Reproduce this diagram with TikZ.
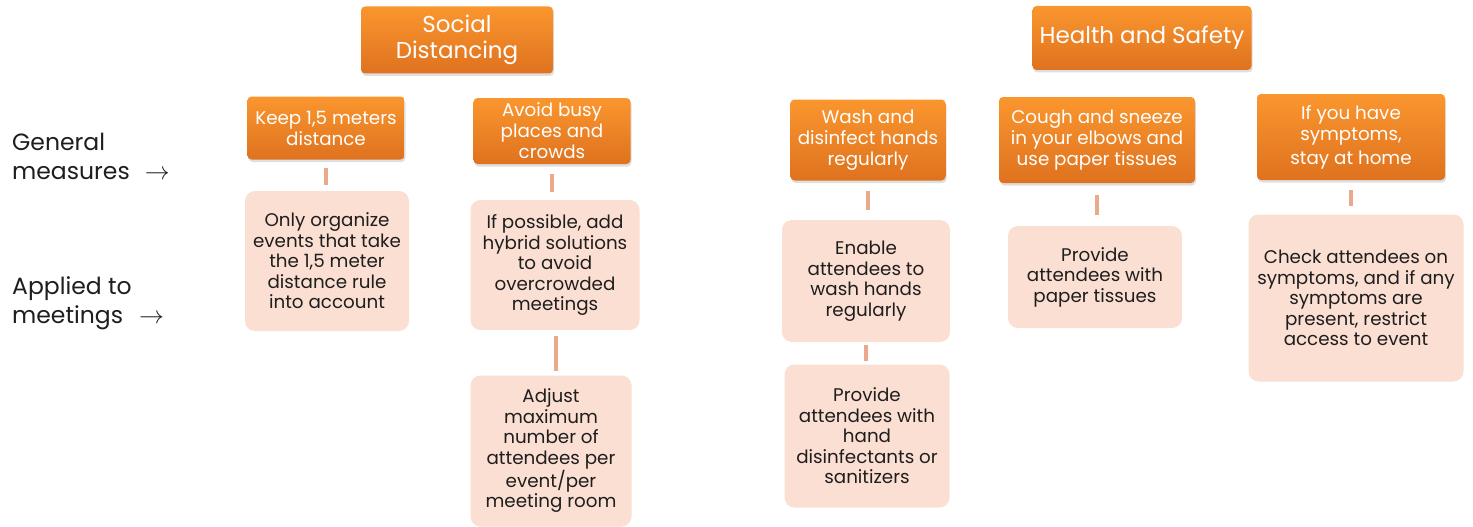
\documentclass[tikz,border=0pt]{standalone}
\usepackage{fontspec}
\setmainfont{Poppins}
\usetikzlibrary{shadows}
\definecolor{orTop}{HTML}{FA962E}
\definecolor{orBot}{HTML}{DF721F}
\definecolor{pale}{HTML}{FBDFD2}
\definecolor{conncol}{HTML}{EBA98C}
\definecolor{txt}{HTML}{1E1E1E}
\tikzset{
  orbox/.style={rounded corners=4pt, top color=orTop, bottom color=orBot, draw=none,
    text=white, align=center, inner sep=0pt,
    drop shadow={shadow xshift=1pt, shadow yshift=-2.5pt, opacity=0.25},
    font=\fontsize{18.3}{21}\selectfont},
  titlebox/.style={orbox, font=\fontsize{23}{26}\selectfont},
  palebox/.style={rounded corners=10pt, fill=pale, draw=none, text=txt, align=center,
    inner sep=0pt, font=\fontsize{18.3}{20.5}\selectfont},
  conn/.style={draw=conncol, line width=3.5pt},
  sidelabel/.style={anchor=west, align=left, text=txt, inner sep=0pt,
    font=\fontsize{23.5}{29}\selectfont}
}
\begin{document}
\begin{tikzpicture}[x=1pt,y=-1pt]
\useasboundingbox (0,0) rectangle (1473,527);
% titles
\node[titlebox, minimum width=192pt, minimum height=67pt] (sd) at (457,40) {Social\\Distancing};
\node[titlebox, minimum width=219pt, minimum height=64pt] (hs) at (1142,38) {Health and Safety};
% general measures
\node[orbox, minimum width=157pt, minimum height=63pt] (keep) at (326,128) {Keep 1,5 meters\\distance};
\node[orbox, minimum width=157pt, minimum height=66pt] (avoid) at (552,131) {Avoid busy\\places and\\crowds};
\node[orbox, minimum width=155pt, minimum height=81pt] (wash) at (868,140) {Wash and\\disinfect hands\\regularly};
\node[orbox, minimum width=196pt, minimum height=86pt] (cough) at (1097,140) {Cough and sneeze\\in your elbows and\\use paper tissues};
\node[orbox, minimum width=188pt, minimum height=86pt] (home) at (1351,137) {If you have\\symptoms,\\[3pt]stay at home};
% applied to meetings
\node[palebox, minimum width=164pt, minimum height=140pt] (only) at (327,261) {Only organize\\events that take\\the 1,5 meter\\distance rule\\into account};
\node[palebox, minimum width=169pt, minimum height=130pt] (hybrid) at (555,265) {If possible, add\\hybrid solutions\\to avoid\\overcrowded\\meetings};
\node[palebox, minimum width=161pt, minimum height=151pt] (adjust) at (551,451) {Adjust\\maximum\\number of\\attendees per\\event/per\\meeting room};
\node[palebox, minimum width=168pt, minimum height=122pt] (enable) at (866,281) {Enable\\attendees to\\wash hands\\regularly};
\node[palebox, minimum width=165pt, minimum height=143pt] (handdis) at (867,436) {Provide\\attendees with\\hand\\disinfectants or\\sanitizers};
\node[palebox, minimum width=174pt, minimum height=102pt] (tissues) at (1095,277) {Provide\\attendees with\\paper tissues};
\node[palebox, minimum width=215pt, minimum height=167pt] (check) at (1356,298) {Check attendees on\\symptoms, and if any\\symptoms are\\present, restrict\\access to event};
% side labels
\node[sidelabel] (gen) at (12,156) {General\\measures\hspace{15pt}$\rightarrow$};
\node[sidelabel] (app) at (12,303) {Applied to\\meetings\hspace{16pt}$\rightarrow$};
% connectors
\draw[conn, shorten <=8pt, shorten >=6pt] (keep.south) -- (keep.south |- only.north);
\draw[conn, shorten <=10pt, shorten >=8pt] (avoid.south) -- (avoid.south |- hybrid.north);
\draw[conn, shorten <=6pt, shorten >=4pt] ([xshift=1pt]hybrid.south) -- ([xshift=1pt]hybrid.south |- adjust.north);
\draw[conn, shorten <=10pt, shorten >=10pt] (wash.south) -- (wash.south |- enable.north);
\draw[conn, shorten <=3pt, shorten >=3pt] (enable.south) -- (enable.south |- handdis.north);
\draw[conn, shorten <=12pt, shorten >=11pt] (cough.south) -- (cough.south |- tissues.north);
\draw[conn, shorten <=10pt, shorten >=8pt] (home.south) -- (home.south |- check.north);
\end{tikzpicture}
\end{document}
